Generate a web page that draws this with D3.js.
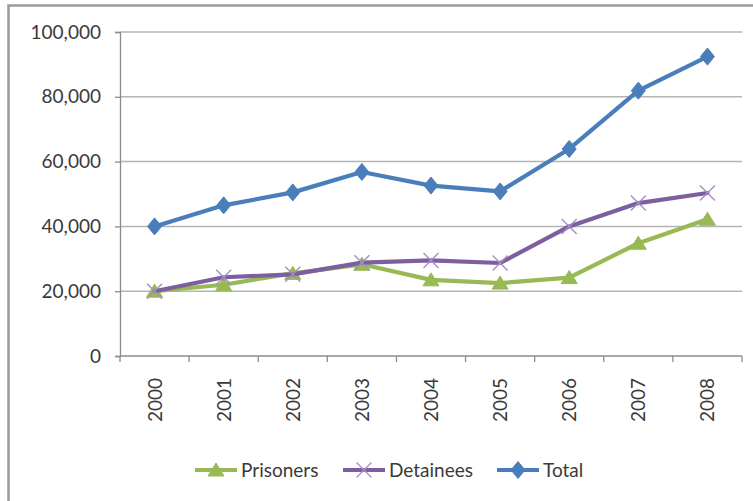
<!DOCTYPE html>
<html>
<head>
<meta charset="utf-8">
<script src="https://cdn.jsdelivr.net/npm/d3@7/dist/d3.min.js"></script>
<style>
  html, body { margin: 0; padding: 0; background: #fff; }
  svg { display: block; font-family: Lato, "Open Sans", sans-serif; }
</style>
</head>
<body>
<svg id="chart" width="753" height="501"></svg>
<script>
// Yearly counts
const years = ["2000", "2001", "2002", "2003", "2004", "2005", "2006", "2007", "2008"];
const prisoners = [20000, 22000, 25500, 28300, 23500, 22500, 24200, 34800, 42200];
const detainees = [20000, 24300, 25200, 28800, 29500, 28700, 40000, 47200, 50300];
const total = [40000, 46500, 50500, 56800, 52600, 50800, 63900, 81900, 92400];
const yTicks = [0, 20000, 40000, 60000, 80000, 100000];

const seriesNames = ["Prisoners", "Detainees", "Total"];
const seriesColors = { Prisoners: "#98b954", Detainees: "#7d5fa0", Total: "#4a7ebb" };
const seriesValues = { Prisoners: prisoners, Detainees: detainees, Total: total };

const svg = d3.select("#chart");
const plotLeft = 120, plotRight = 742, plotTop = 32, plotBottom = 356;

// Outer chart frame
svg.append("rect")
  .attr("x", 8.5).attr("y", 5.5)
  .attr("width", 760).attr("height", 520)
  .attr("fill", "none").attr("stroke", "#9a9a9a").attr("stroke-width", 2.5);

const x = d3.scaleBand().domain(years).range([plotLeft, plotRight]).padding(0);
const y = d3.scaleLinear().domain([0, 100000]).range([plotBottom, plotTop]);
const cx = d => x(d) + x.bandwidth() / 2;

// Horizontal gridlines
svg.append("g").selectAll("line")
  .data(yTicks.filter(t => t > 0))
  .join("line")
  .attr("x1", plotLeft).attr("x2", plotRight)
  .attr("y1", d => y(d)).attr("y2", d => y(d))
  .attr("stroke", "#b4b4b4").attr("stroke-width", 1.5);

// Y axis
const yAxis = svg.append("g")
  .attr("transform", `translate(${plotLeft},0)`)
  .call(d3.axisLeft(y).tickValues(yTicks).tickSize(5).tickPadding(14)
    .tickFormat(d3.format(",")));
yAxis.select(".domain").attr("stroke", "#8c8c8c").attr("stroke-width", 1.3);
yAxis.selectAll(".tick line").attr("stroke", "#8c8c8c").attr("stroke-width", 1.3);
yAxis.selectAll("text").attr("font-size", 19).attr("fill", "#3a3a3a")
  .attr("font-family", "Lato, sans-serif");

// X axis: ticks sit on the category boundaries
const xAxisG = svg.append("g").attr("transform", `translate(0,${plotBottom})`);
xAxisG.append("line").attr("x1", plotLeft).attr("x2", plotRight)
  .attr("stroke", "#8c8c8c").attr("stroke-width", 1.3);
const boundaries = years.map(d => x(d)).concat([x(years[years.length - 1]) + x.bandwidth()]);
xAxisG.selectAll("line.tk").data(boundaries).join("line")
  .attr("class", "tk")
  .attr("x1", d => d).attr("x2", d => d)
  .attr("y1", 0).attr("y2", 6)
  .attr("stroke", "#8c8c8c").attr("stroke-width", 1.3);
xAxisG.selectAll("text").data(years).join("text")
  .attr("transform", d => `translate(${cx(d) + 7},22) rotate(-90)`)
  .attr("text-anchor", "end")
  .attr("font-size", 19).attr("fill", "#3a3a3a")
  .text(d => d);

// Marker shapes
function markerPath(name) {
  if (name === "Total") return "M0,-8.5L7,0L0,8.5L-7,0Z";
  if (name === "Prisoners") return "M0,-7L8,6L-8,6Z";
  return "M-7.5,-7.5L7.5,7.5M7.5,-7.5L-7.5,7.5";
}
function drawMarker(g, name) {
  if (name === "Detainees") {
    g.append("path").attr("d", markerPath(name))
      .attr("fill", "none").attr("stroke", "#a58fc6").attr("stroke-width", 1.4);
  } else {
    g.append("path").attr("d", markerPath(name))
      .attr("fill", seriesColors[name]).attr("stroke", seriesColors[name]).attr("stroke-width", 1);
  }
}

const line = d3.line().x(d => cx(d.year)).y(d => y(d.value));

seriesNames.forEach(name => {
  const pts = years.map((yr, i) => ({ year: yr, value: seriesValues[name][i] }));
  const g = svg.append("g");
  g.append("path").datum(pts)
    .attr("d", line)
    .attr("fill", "none")
    .attr("stroke", seriesColors[name])
    .attr("stroke-width", 4.2)
    .attr("stroke-linejoin", "round")
    .attr("stroke-linecap", "round");
  pts.forEach(p => {
    const m = g.append("g").attr("transform", `translate(${cx(p.year)},${y(p.value)})`);
    drawMarker(m, name);
  });
});

// Legend
const legendItems = [
  { name: "Prisoners", x0: 195 },
  { name: "Detainees", x0: 343 },
  { name: "Total", x0: 497 }
];
const legendY = 470;
legendItems.forEach(it => {
  const g = svg.append("g").attr("transform", `translate(${it.x0},${legendY})`);
  g.append("line").attr("x1", 0).attr("x2", 42).attr("y1", 0).attr("y2", 0)
    .attr("stroke", seriesColors[it.name]).attr("stroke-width", 4.2);
  const m = g.append("g").attr("transform", "translate(21,0)");
  drawMarker(m, it.name);
  g.append("text").attr("x", 46).attr("y", 0).attr("dy", "0.35em")
    .attr("font-size", 19).attr("fill", "#3a3a3a")
    .text(it.name);
});
</script>
</body>
</html>
